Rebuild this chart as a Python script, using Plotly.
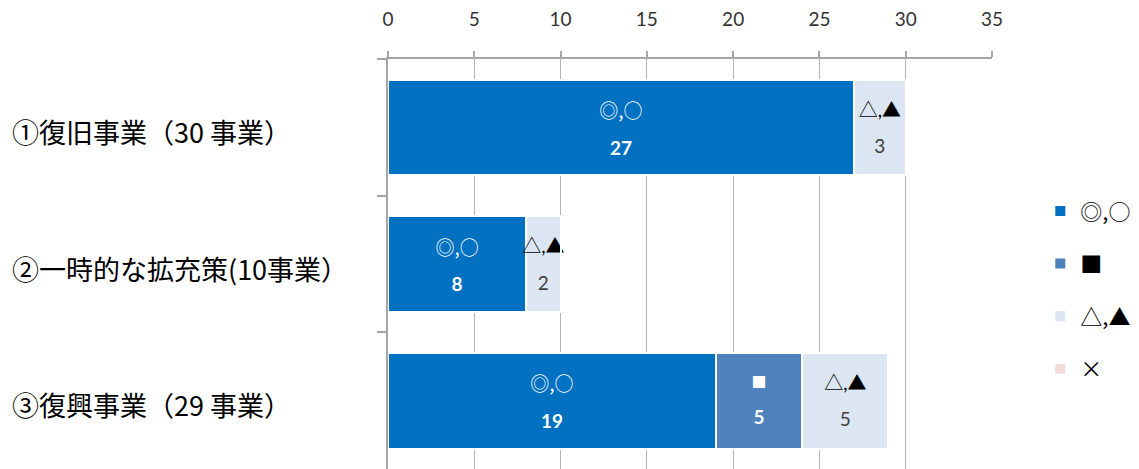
import plotly.graph_objects as go

# Categories (top to bottom) and stacked counts per rating group
categories = ["①復旧事業（30 事業）", "②一時的な拡充策(10事業）", "③復興事業（29 事業）"]
series_names = ["◎,○", "■", "△,▲", "×"]
values_good = [27, 8, 19]      # ◎,○
values_square = [0, 0, 5]      # ■
values_tri = [3, 2, 5]         # △,▲
values_cross = [0, 0, 0]       # ×
x_ticks = [0, 5, 10, 15, 20, 25, 30, 35]

colors = ["#0070C0", "#4F81BD", "#DCE6F2", "#F2DCDB"]

W, H = 1139, 469
L, R, T, B = 388, 147, 59, 0

CJK = "Noto Sans CJK JP"
NUM = "Lato, Noto Sans CJK JP"


def seg_text(symbol, vals, sym_color, num_color, bold, sym_size=19, sym_font=CJK):
    out = []
    for v in vals:
        if not v:
            out.append("")
            continue
        num = f"<b>{v}</b>" if bold else f"{v}"
        out.append(
            f"<span style='font-size:{sym_size}px;color:{sym_color};font-family:{sym_font}'>{symbol}</span><br>"
            f"<span style='font-size:19px;color:{num_color}'>{num}</span>"
        )
    return out


texts = [
    seg_text("◎,○", values_good, "white", "white", True, sym_size=19),
    seg_text("■", values_square, "white", "white", True, sym_size=15, sym_font=NUM),
    seg_text("△,▲", values_tri, "black", "#404040", False, sym_size=19, sym_font=NUM),
    ["" for _ in values_cross],
]
all_vals = [values_good, values_square, values_tri, values_cross]

fig = go.Figure()
for i, (name, vals) in enumerate(zip(series_names, all_vals)):
    fig.add_trace(go.Bar(
        y=categories, x=vals, orientation="h", name=name,
        marker=dict(color=colors[i], line=dict(color="white", width=2)),
        text=texts[i], texttemplate="%{text}",
        textposition="inside", insidetextanchor="middle",
        constraintext="none",
        textfont=dict(family=NUM, size=28),
        legendgroup=f"g{i}", hoverinfo="skip",
    ))

fig.update_layout(
    width=W, height=H,
    margin=dict(l=L, r=R, t=T, b=B, pad=0),
    paper_bgcolor="white", plot_bgcolor="white",
    barmode="stack", bargap=0.30,
    showlegend=True,
    legend=dict(
        x=1.08, xanchor="left", y=0.68, yanchor="top",
        font=dict(family=CJK, size=22, color="black"),
        tracegroupgap=21, traceorder="grouped",
        bgcolor="rgba(0,0,0,0)",
    ),
    uniformtext=dict(mode=False),
)

fig.update_xaxes(
    side="top", range=[0, 35], tickvals=x_ticks,
    showgrid=True, gridcolor="#B5B5B5", gridwidth=1,
    showline=True, linecolor="#A6A6A6", linewidth=1.5,
    ticks="outside", ticklen=6, tickcolor="#A6A6A6", tickwidth=1.5,
    tickfont=dict(family=NUM, size=19, color="#333333"),
    ticklabelstandoff=18,
    zeroline=False, fixedrange=True,
)
fig.update_yaxes(
    categoryorder="array", categoryarray=categories, autorange="reversed",
    showticklabels=False, tickson="boundaries",
    ticks="outside", ticklen=9, tickcolor="#A6A6A6", tickwidth=1.5,
    showline=True, linecolor="#A6A6A6", linewidth=1.5,
    showgrid=False, zeroline=False, fixedrange=True,
)

# Left-aligned category labels
for c in categories:
    fig.add_annotation(
        xref="paper", yref="y", x=0, y=c, xanchor="left", yanchor="middle",
        xshift=-378, yshift=-4, text=c, showarrow=False,
        font=dict(family=CJK, size=27, color="black"),
    )

fig.write_html("out.html")
